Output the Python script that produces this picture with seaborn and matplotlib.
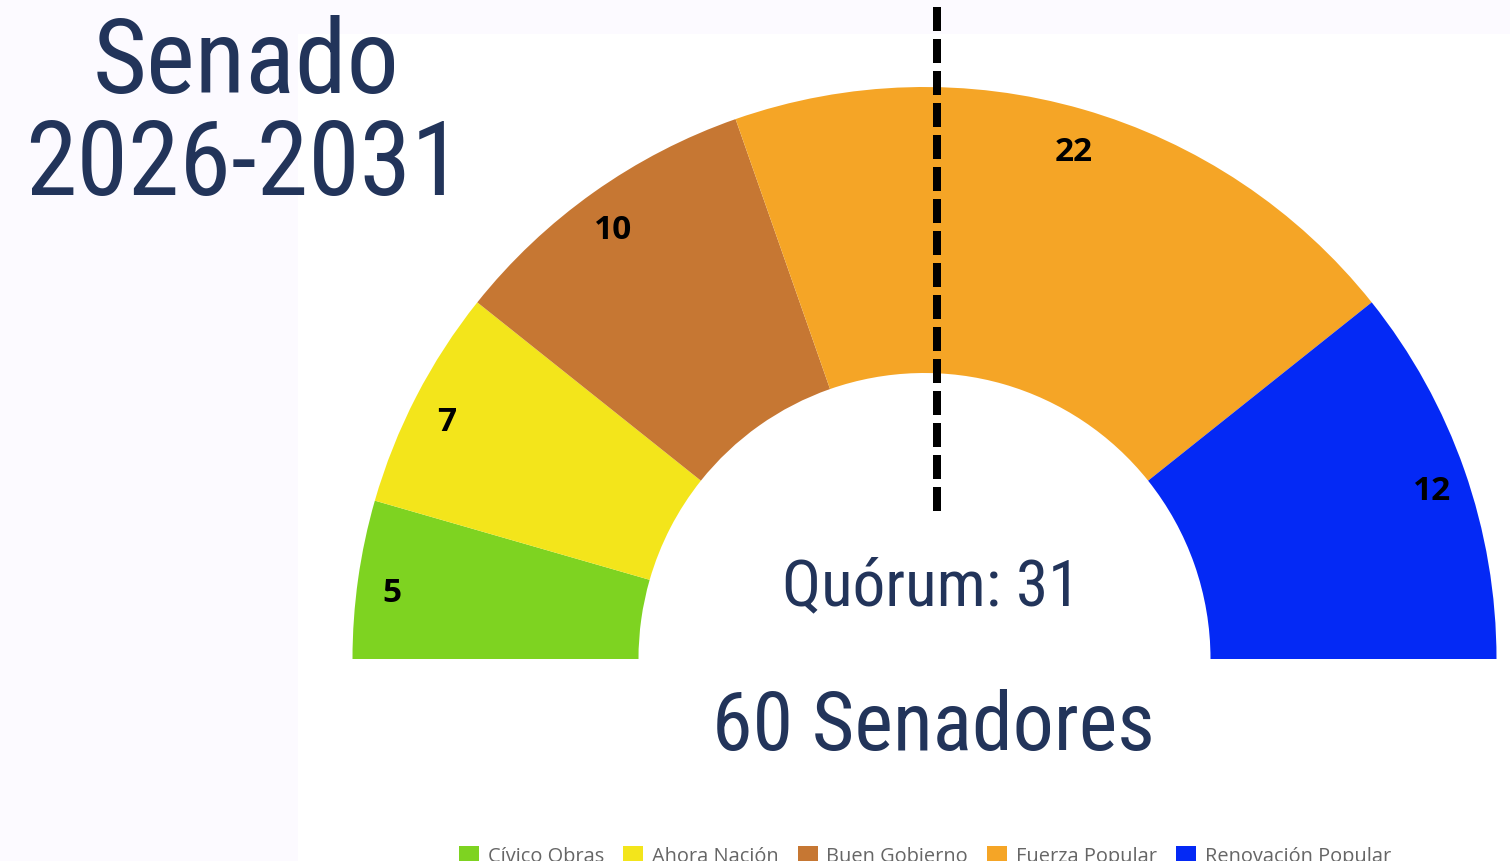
import matplotlib
matplotlib.use('Agg')
import matplotlib.pyplot as plt
from matplotlib.patches import Patch, Rectangle
import seaborn as sns

# ----------------------------------------------------
# Data
# ----------------------------------------------------
parties = ['Cívico Obras', 'Ahora Nación', 'Buen Gobierno', 'Fuerza Popular', 'Renovación Popular']
seats = [5, 7, 10, 22, 12]
party_colors = ['#7ed321', '#f3e51b', '#c67733', '#f5a526', '#0429f5']
title_lines = ['Senado', '2026-2031']
quorum = 31
total_label = 60

sns.set_theme(style='white')
plt.rcParams['font.family'] = ['Open Sans', 'DejaVu Sans']

navy = '#22345a'
narrow = ['Roboto Condensed', 'Roboto', 'DejaVu Sans']

fig = plt.figure(figsize=(15.1, 8.62), dpi=100, facecolor='#fcfaff')
ax = fig.add_axes([0, 0, 1, 1])
ax.set_facecolor('none')

# white panel behind the chart
ax.add_patch(Rectangle((298, 0), 1510 - 298, 862 - 35, color='white', zorder=-5, lw=0))

# ----------------------------------------------------
# Half donut: add a hidden slice equal to the total
# ----------------------------------------------------
vals = seats + [sum(seats)]
cols = party_colors + ['none']
labels = [str(s) for s in seats] + ['']
wedges, texts = ax.pie(vals, colors=cols, labels=labels, startangle=180, counterclock=False,
                       radius=572, center=(924.5, 202), labeldistance=0.94,
                       wedgeprops=dict(width=286, linewidth=0),
                       textprops=dict(fontsize=24, color='black', fontweight='bold'))
for t in texts:
    t.set_horizontalalignment('center')
    t.set_verticalalignment('center')
    t.set_y(t.get_position()[1] - 9)   # digits sit a bit lower in the original

ax.set_xlim(0, 1510)
ax.set_ylim(0, 862)
ax.set_aspect('auto')
ax.axis('off')

# quorum dashed line (drawn from the bottom so it starts on a dash)
ax.plot([937, 937], [862 - 512, 862], color='black', lw=5.76,
        dashes=(3, 1), solid_capstyle='butt', dash_capstyle='butt', zorder=5)

# ----------------------------------------------------
# Texts
# ----------------------------------------------------
ax.text(246, 862 - 93, title_lines[0], ha='center', va='baseline', fontsize=75,
        color=navy, family=narrow)
ax.text(244, 862 - 195, title_lines[1], ha='center', va='baseline', fontsize=75,
        color=navy, family=narrow)
ax.text(931, 862 - 605, f'Quórum: {quorum}', ha='center', va='baseline', fontsize=47,
        color=navy, family=narrow)
ax.text(933, 862 - 750, f'{total_label} Senadores', ha='center', va='baseline', fontsize=59,
        color=navy, family=narrow)

# ----------------------------------------------------
# Legend (cut off at the bottom like the original)
# ----------------------------------------------------
handles = [Patch(facecolor=c, edgecolor='none') for c in party_colors]
fig.legend(handles, parties, loc='center', bbox_to_anchor=(925 / 1510, 1 - 857 / 862),
           ncol=5, frameon=False, fontsize=14.4, labelcolor='#666666',
           handlelength=1.0, handleheight=1.0, handletextpad=0.45, columnspacing=0.95)

fig.savefig('out.png', dpi=100, facecolor=fig.get_facecolor())
